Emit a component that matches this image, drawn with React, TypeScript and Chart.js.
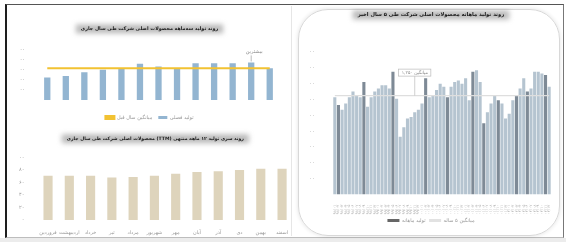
import React, { useEffect, useRef } from "react";
import { Chart, registerables } from "chart.js";

Chart.register(...registerables);
Chart.defaults.font.family = '"DejaVu Sans", "Noto Sans", sans-serif';

const FA_DIGITS = "۰۱۲۳۴۵۶۷۸۹";
const toFa = (s: string) => s.replace(/[0-9]/g, (d) => FA_DIGITS[Number(d)]);
const faNum = (v: number) => toFa(Math.round(v).toLocaleString("en-US"));
const rtl = (s: string) => "\u202B" + s + "\u202C";

// ---------- top-left: quarterly production ----------
const quarterTitle = "روند تولید سه‌ماهه محصولات اصلی شرکت طی سال جاری";
const quarterLabels = ["۹۹-۱", "۹۹-۲", "۹۹-۳", "۹۹-۴", "۰۰-۱", "۰۰-۲", "۰۰-۳", "۰۰-۴", "۰۱-۱", "۰۱-۲", "۰۱-۳", "۰۱-۴", "۰۲-۱"];
const quarterProduction = [1120, 1200, 1380, 1500, 1580, 1800, 1670, 1580, 1830, 1830, 1830, 1870, 1580];
const quarterLastYearAvg = [1580, 1580, 1580, 1580, 1580, 1580, 1580, 1580, 1580, 1580, 1580, 1580, 1580];
const quarterSeriesNames = ["تولید فصلی", "میانگین سال قبل"];
const peakQuarterIndex = 11;
const peakNoteText = "بیشترین";

// ---------- bottom-left: TTM production ----------
const ttmTitle = "روند سری تولید ۱۲ ماهه منتهی (TTM) محصولات اصلی شرکت طی سال جاری";
const ttmMonths = ["فروردین", "اردیبهشت", "خرداد", "تیر", "مرداد", "شهریور", "مهر", "آبان", "آذر", "دی", "بهمن", "اسفند"];
const ttmProduction = [71, 71, 71, 68, 69, 71, 74, 77, 78, 80, 82, 82];

// ---------- right: monthly production, 5 years ----------
const monthlyTitle = "روند تولید ماهانه محصولات اصلی شرکت طی ۵ سال اخیر";
const fiveYears = ["98", "99", "00", "01", "02"];
const monthNums = ["01", "02", "03", "04", "05", "06", "07", "08", "09", "10", "11", "12"];
const monthLabels = fiveYears.flatMap((y) => monthNums.map((m) => toFa(`${y}/${m}`)));
const monthlyProduction = [
  1230, 1130, 1070, 1150, 1230, 1300, 1250, 1230, 1420, 1110, 1230, 1300,
  1340, 1380, 1380, 1340, 1550, 1210, 730, 850, 960, 980, 1040, 1070,
  1150, 1470, 1230, 1250, 1320, 1400, 1360, 1230, 1360, 1420, 1440, 1400,
  1470, 1190, 1550, 1570, 1420, 900, 1040, 1150, 1250, 1190, 1150, 960,
  1020, 1190, 1250, 1340, 1470, 1300, 1340, 1550, 1550, 1530, 1510, 1360,
];
const highlightedMonths = [1, 8, 16, 25, 31, 38, 41, 45, 50, 53, 58];
const monthlyAverage = 1250;
const monthlySeriesNames = ["تولید ماهانه", "میانگین ۵ ساله"];
const noteMonthIndex = 22;
const noteValue = 1540;
const noteText = "میانگین ۱,۲۵۰";

const FONT = '"DejaVu Sans", "Noto Sans", sans-serif';

// ---------- plugins ----------
const titleHalo = {
  id: "titleHalo",
  beforeDraw(chart: any) {
    const tb = chart.titleBlock;
    if (!tb || !tb.options.display) return;
    const o = tb.options;
    const size = o.font.size;
    const padTop = typeof o.padding === "number" ? o.padding : o.padding.top;
    const cy = tb.top + padTop + (size * 1.2) / 2;
    const cx = (tb.left + tb.right) / 2;
    const ctx = chart.ctx;
    ctx.save();
    ctx.font = `bold ${size}px ${FONT}`;
    const w = ctx.measureText(o.text).width;
    ctx.filter = "blur(2.5px)";
    ctx.fillStyle = "rgba(120,120,120,0.5)";
    ctx.fillRect(cx - w / 2 - 5, cy - 4.5, w + 10, 9);
    ctx.restore();
  },
};

const peakNote = {
  id: "peakNote",
  afterDatasetsDraw(chart: any) {
    const el = chart.getDatasetMeta(0).data[peakQuarterIndex];
    if (!el) return;
    const ctx = chart.ctx;
    ctx.save();
    ctx.strokeStyle = "#aaa";
    ctx.lineWidth = 0.8;
    ctx.beginPath();
    ctx.moveTo(el.x, el.y - 1);
    ctx.lineTo(el.x, el.y - 7);
    ctx.stroke();
    ctx.fillStyle = "#888";
    ctx.font = `5px ${FONT}`;
    ctx.textAlign = "center";
    ctx.textBaseline = "bottom";
    ctx.fillText(peakNoteText, el.x + 3, el.y - 8);
    ctx.restore();
  },
};

const avgNote = {
  id: "avgNote",
  afterDatasetsDraw(chart: any) {
    const xs = chart.scales.x;
    const ys = chart.scales.y;
    const x = xs.getPixelForValue(noteMonthIndex);
    const yBox = ys.getPixelForValue(noteValue);
    const yLine = ys.getPixelForValue(monthlyAverage);
    const ctx = chart.ctx;
    ctx.save();
    ctx.font = `4.5px ${FONT}`;
    const w = ctx.measureText(noteText).width + 6;
    const h = 7;
    ctx.fillStyle = "#fff";
    ctx.fillRect(x - w / 2, yBox - h / 2, w, h);
    ctx.strokeStyle = "#bbb";
    ctx.lineWidth = 0.7;
    ctx.strokeRect(x - w / 2, yBox - h / 2, w, h);
    ctx.beginPath();
    ctx.moveTo(x, yBox + h / 2);
    ctx.lineTo(x, yLine);
    ctx.stroke();
    ctx.fillStyle = "#888";
    ctx.textAlign = "center";
    ctx.textBaseline = "middle";
    ctx.fillText(noteText, x, yBox + 0.5);
    ctx.restore();
  },
};

const TICK = "#999";

function makeQuarterChart(): any {
  return {
    type: "bar",
    data: {
      labels: quarterLabels,
      datasets: [
        {
          type: "bar",
          label: quarterSeriesNames[0],
          data: quarterProduction,
          backgroundColor: "#93b5d1",
          barPercentage: 0.34,
          categoryPercentage: 1,
          order: 2,
        },
        {
          type: "line",
          label: quarterSeriesNames[1],
          data: quarterLastYearAvg,
          borderColor: "#f2c232",
          backgroundColor: "#f2c232",
          borderWidth: 2,
          pointRadius: 0,
          order: 1,
        },
      ],
    },
    options: {
      animation: false,
      responsive: false,
      events: [],
      layout: { padding: { left: 10, right: 11, top: 4, bottom: 0 } },
      plugins: {
        title: {
          display: true,
          text: rtl(quarterTitle),
          color: "#1a1a1a",
          font: { size: 4.8, weight: "bold" },
          padding: { top: 4, bottom: 18 },
        },
        legend: {
          position: "bottom",
          labels: { font: { size: 5 }, color: "#999", boxWidth: 9, boxHeight: 3, padding: 6 },
        },
        tooltip: { enabled: false },
      },
      scales: {
        x: {
          grid: { display: false },
          border: { display: false },
          ticks: { font: { size: 5 }, color: TICK, padding: 4, maxRotation: 0, autoSkip: false },
          afterFit: (s: any) => { s.height = 9; },
        },
        y: {
          min: 0,
          max: 2500,
          grid: { display: false },
          border: { display: false },
          ticks: { stepSize: 500, font: { size: 5 }, color: TICK, padding: 5, callback: (v: number) => (v === 0 ? "" : faNum(v)) },
          afterFit: (s: any) => { s.width = 18; },
        },
      },
    },
    plugins: [titleHalo, peakNote],
  };
}

function makeTtmChart(): any {
  return {
    type: "bar",
    data: {
      labels: ttmMonths,
      datasets: [
        {
          label: "TTM",
          data: ttmProduction,
          backgroundColor: "#ded4bc",
          barPercentage: 0.43,
          categoryPercentage: 1,
        },
      ],
    },
    options: {
      animation: false,
      responsive: false,
      events: [],
      layout: { padding: { left: 10, right: 1.3, top: 4, bottom: 0 } },
      plugins: {
        title: {
          display: true,
          text: rtl(ttmTitle),
          color: "#1a1a1a",
          font: { size: 4.6, weight: "bold" },
          padding: { top: 4, bottom: 16 },
        },
        legend: { display: false },
        tooltip: { enabled: false },
      },
      scales: {
        x: {
          grid: { display: false },
          border: { display: false },
          ticks: { font: { size: 5 }, color: TICK, padding: 1.5, maxRotation: 0, autoSkip: false },
          afterFit: (s: any) => { s.height = 16; },
        },
        y: {
          min: 0,
          max: 100,
          grid: { display: false },
          border: { display: false },
          ticks: { stepSize: 20, font: { size: 5 }, color: TICK, padding: 5, callback: (v: number) => faNum(v) },
          afterFit: (s: any) => { s.width = 19.4; },
        },
      },
    },
    plugins: [titleHalo],
  };
}

function makeMonthlyChart(): any {
  const LIGHT = "#b5c4d0";
  const DARK = "#7e8a96";
  return {
    type: "bar",
    data: {
      labels: monthLabels,
      datasets: [
        {
          type: "bar",
          label: monthlySeriesNames[0],
          data: monthlyProduction,
          backgroundColor: monthlyProduction.map((_, i) => (highlightedMonths.includes(i) ? DARK : LIGHT)),
          barPercentage: 0.85,
          categoryPercentage: 1,
          order: 2,
        },
        {
          type: "line",
          label: monthlySeriesNames[1],
          data: [
            { x: monthLabels[0], y: monthlyAverage },
            { x: monthLabels[monthLabels.length - 1], y: monthlyAverage },
          ],
          borderColor: "#dedede",
          backgroundColor: "#dedede",
          borderWidth: 1.2,
          pointRadius: 0,
          order: 1,
        },
      ],
    },
    options: {
      animation: false,
      responsive: false,
      events: [],
      layout: { padding: { left: 8, right: 4, top: 0, bottom: 0 } },
      plugins: {
        title: {
          display: true,
          text: rtl(monthlyTitle),
          color: "#1a1a1a",
          font: { size: 5.2, weight: "bold" },
          padding: { top: 3.9, bottom: 33.9 },
        },
        legend: {
          position: "bottom",
          labels: {
            font: { size: 5 },
            color: "#999",
            boxWidth: 12,
            boxHeight: 3,
            padding: 3.5,
            generateLabels: () => [
              { text: monthlySeriesNames[0], fillStyle: "#666", strokeStyle: "#666", lineWidth: 0, hidden: false, datasetIndex: 0, fontColor: "#999" },
              { text: monthlySeriesNames[1], fillStyle: "#e2e2e2", strokeStyle: "#e2e2e2", lineWidth: 0, hidden: false, datasetIndex: 1, fontColor: "#999" },
            ],
          },
        },
        tooltip: { enabled: false },
      },
      scales: {
        x: {
          grid: { display: false },
          border: { display: false },
          ticks: { font: { size: 4 }, color: "#aaa", padding: 2, minRotation: 90, maxRotation: 90, autoSkip: false },
          afterFit: (s: any) => { s.height = 20; },
        },
        y: {
          min: 0,
          max: 1800,
          grid: { display: false },
          border: { display: false },
          ticks: { stepSize: 200, font: { size: 5.5 }, color: "#888", padding: 10, callback: (v: number) => (v === 0 ? "" : faNum(v)) },
          afterFit: (s: any) => { s.width = 23; },
        },
      },
    },
    plugins: [titleHalo, avgNote],
  };
}

function ChartCanvas(props: { make: () => any; left: number; top: number; width: number; height: number }) {
  const ref = useRef<HTMLCanvasElement>(null);
  useEffect(() => {
    const chart = new Chart(ref.current as HTMLCanvasElement, props.make());
    return () => chart.destroy();
  }, []);
  return (
    <canvas
      ref={ref}
      width={props.width}
      height={props.height}
      style={{ position: "absolute", left: props.left, top: props.top, width: props.width, height: props.height }}
    />
  );
}

export default function App() {
  return (
    <div style={{ position: "fixed", left: 0, top: 0, width: 566, height: 242, background: "#fff", overflow: "hidden" }}>
      <div style={{ position: "absolute", left: 0, top: 238, width: 566, height: 4, background: "#ececec" }} />
      <div
        style={{
          position: "absolute",
          left: 5,
          top: 4,
          width: 559,
          height: 234,
          boxSizing: "border-box",
          borderLeft: "2px solid #1e1e1e",
          borderTop: "1.5px solid #555",
          borderRight: "1px solid #777",
          borderBottom: "1px solid #bdbdbd",
        }}
      />
      <div style={{ position: "absolute", left: 291, top: 6, width: 1, height: 230, background: "#e6e6e6" }} />
      <div
        style={{
          position: "absolute",
          left: 298,
          top: 9,
          width: 262,
          height: 227,
          boxSizing: "border-box",
          border: "1px solid #d8d8d8",
          borderRadius: 30,
          boxShadow: "0 0 4px rgba(0,0,0,0.12)",
        }}
      />
      <ChartCanvas make={makeQuarterChart} left={10} top={18} width={280} height={112} />
      <ChartCanvas make={makeTtmChart} left={8} top={128} width={286} height={108} />
      <ChartCanvas make={makeMonthlyChart} left={302} top={8} width={254} height={225} />
    </div>
  );
}
